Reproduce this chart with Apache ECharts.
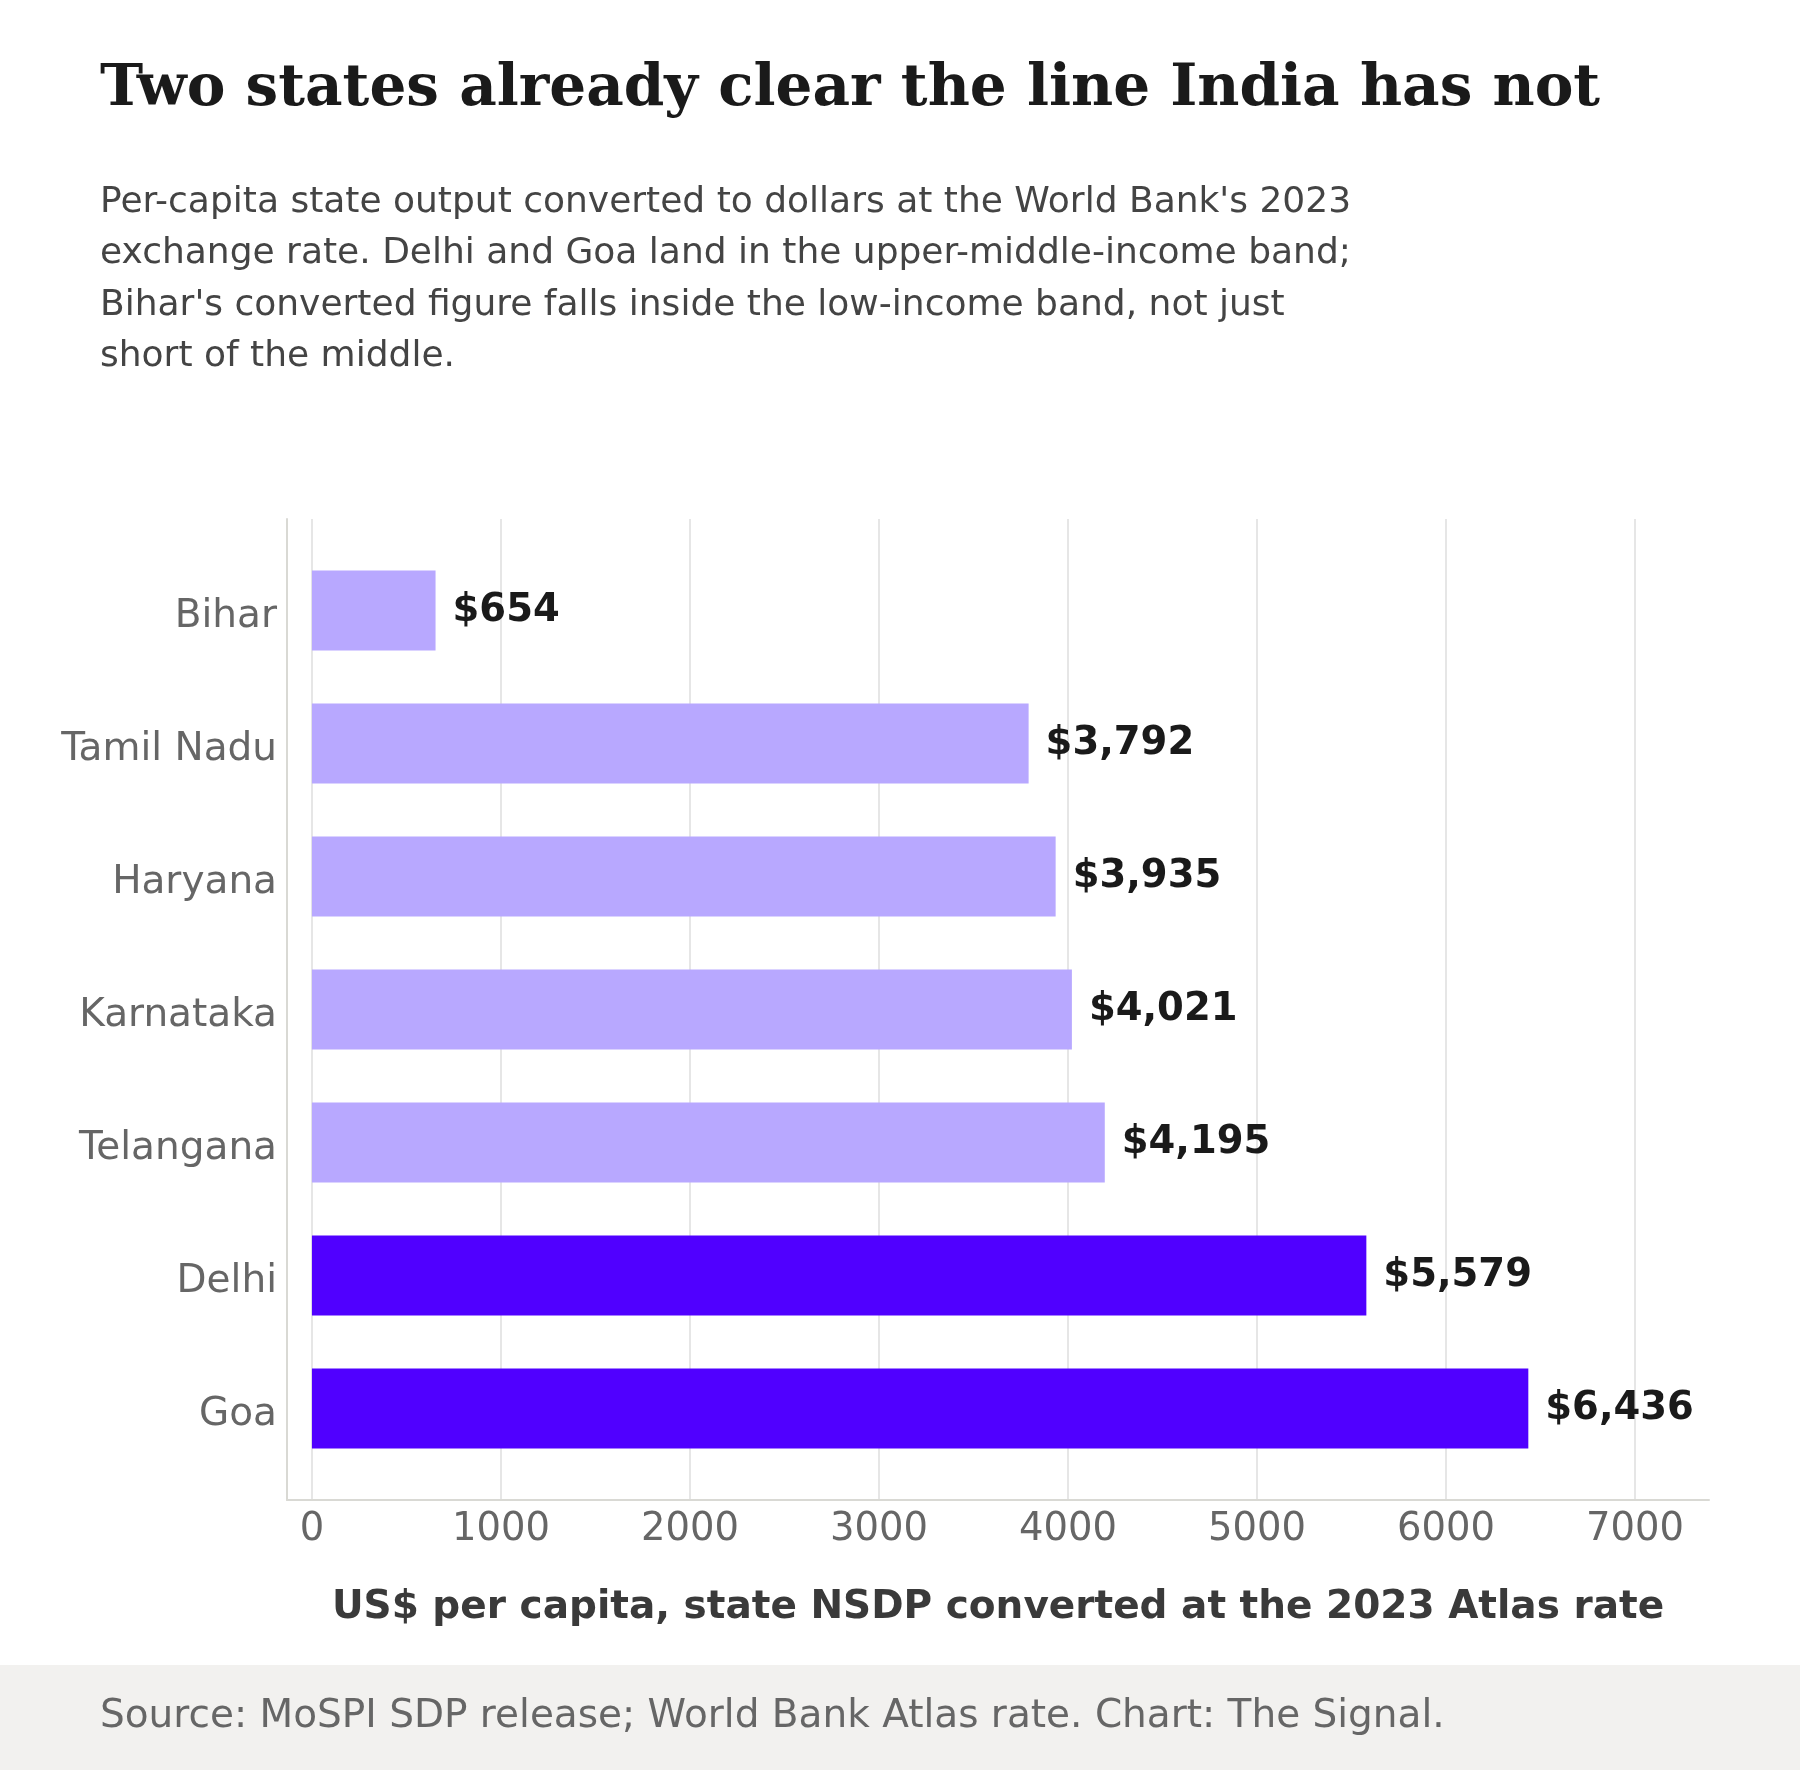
<!DOCTYPE html>
<html>
<head>
<meta charset="utf-8">
<script src="https://cdn.jsdelivr.net/npm/echarts@6/dist/echarts.min.js"></script>
<style>
html,body{margin:0;padding:0;background:#fff;}
#chart{width:1800px;height:1770px;}
</style>
</head>
<body>
<div id="chart"></div>
<script>
const states = ['Bihar', 'Tamil Nadu', 'Haryana', 'Karnataka', 'Telangana', 'Delhi', 'Goa'];
const values = [654, 3792, 3935, 4021, 4195, 5579, 6436];
const highlighted = [false, false, false, false, false, true, true];
const xTicks = [0, 1000, 2000, 3000, 4000, 5000, 6000, 7000];

const titleText = 'Two states already clear the line India has not';
const subtitleText = "Per-capita state output converted to dollars at the World Bank's 2023\nexchange rate. Delhi and Goa land in the upper-middle-income band;\nBihar's converted figure falls inside the low-income band, not just\nshort of the middle.";
const axisTitle = 'US$ per capita, state NSDP converted at the 2023 Atlas rate';
const sourceText = 'Source: MoSPI SDP release; World Bank Atlas rate. Chart: The Signal.';

const LIGHT = '#b8a8ff';
const DARK = '#5000ff';
const FONT = '"DejaVu Sans", sans-serif';

const chart = echarts.init(document.getElementById('chart'), null, {renderer: 'canvas'});
const xMin = -132, xMax = 7392;

chart.setOption({
  animation: false,
  backgroundColor: '#ffffff',
  title: [
    {
      text: titleText, left: 100, top: 61, padding: 0,
      textStyle: {fontFamily: '"DejaVu Serif", serif', fontWeight: 'bold', fontSize: 58, color: '#1a1a1a', lineHeight: 58}
    },
    {
      text: subtitleText, left: 100, top: 177, padding: 0,
      textStyle: {fontFamily: FONT, fontWeight: 'normal', fontSize: 36, color: '#444444', lineHeight: 51.3}
    }
  ],
  graphic: [
    {type: 'rect', left: 0, top: 1665, shape: {width: 1800, height: 105}, style: {fill: '#f2f1ef'}, z: -1},
    {type: 'text', left: 100, top: 1697, style: {text: sourceText, font: '39px "DejaVu Sans", sans-serif', fill: '#666666'}}
  ],
  grid: [
    {left: 287, right: 91, top: 519, bottom: 270},
    {left: 287, right: 91, top: 544, bottom: 295}
  ],
  xAxis: [
    {
      gridIndex: 0, type: 'value', min: xMin, max: xMax,
      axisLine: {show: true, lineStyle: {color: '#d9d9d4', width: 2}},
      axisTick: {show: false, customValues: xTicks},
      axisLabel: {customValues: xTicks, formatter: v => String(v), fontFamily: FONT, fontSize: 38.5, color: '#666666', margin: 10},
      splitLine: {show: true, lineStyle: {color: '#e6e6e6', width: 2}},
      name: axisTitle, nameLocation: 'middle', nameGap: 88,
      nameTextStyle: {fontFamily: FONT, fontWeight: 'bold', fontSize: 39, color: '#3a3a3a'}
    },
    {
      gridIndex: 1, type: 'value', min: xMin, max: xMax, show: false,
      splitLine: {show: false}
    }
  ],
  yAxis: [
    {
      gridIndex: 0, type: 'category', data: states, inverse: true,
      axisLine: {show: true, onZero: false, lineStyle: {color: '#d9d9d4', width: 2}},
      axisTick: {show: false}, axisLabel: {show: false}, splitLine: {show: false}
    },
    {
      gridIndex: 1, type: 'category', data: states, inverse: true,
      axisLine: {show: false, onZero: false}, axisTick: {show: false},
      axisLabel: {
        margin: 10,
        formatter: v => '{c|' + v + '}',
        rich: {c: {fontFamily: FONT, fontSize: 39, color: '#666666', padding: [12, 0, 0, 0]}}
      },
      splitLine: {show: false}
    }
  ],
  series: [{
    type: 'bar', xAxisIndex: 1, yAxisIndex: 1,
    barWidth: 80,
    data: values.map((v, i) => ({value: v, itemStyle: {color: highlighted[i] ? DARK : LIGHT}})),
    label: {
      show: true, position: 'right', distance: 17,
      formatter: p => '$' + p.value.toLocaleString('en-US'),
      fontFamily: FONT, fontWeight: 'bold', fontSize: 38.5, color: '#1a1a1a'
    }
  }]
});
</script>
</body>
</html>
